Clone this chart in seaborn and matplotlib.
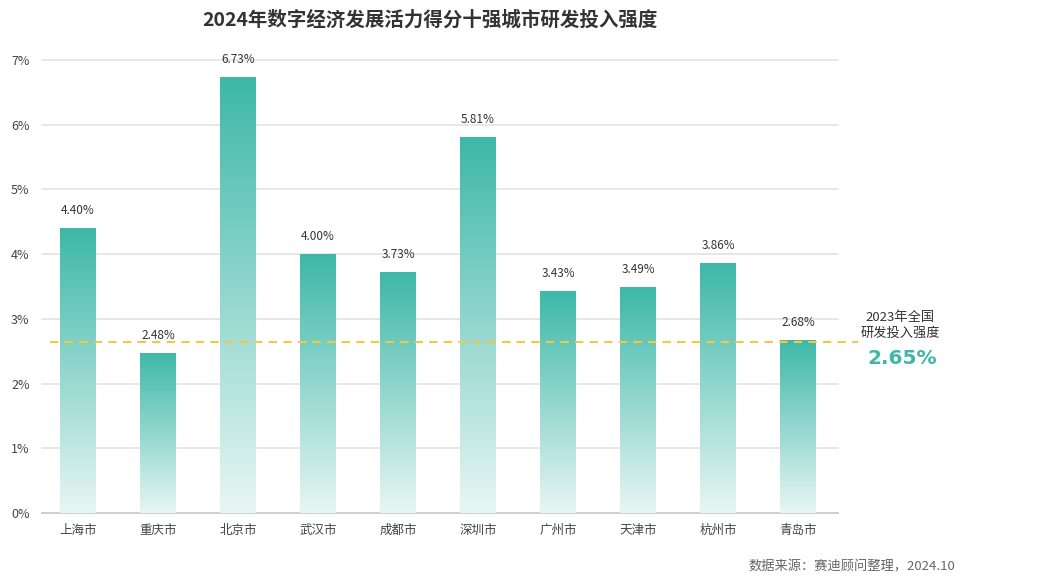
import numpy as np
import pandas as pd
import matplotlib
matplotlib.use("Agg")
import matplotlib.pyplot as plt
import seaborn as sns
from matplotlib.colors import LinearSegmentedColormap

cities = ["上海市", "重庆市", "北京市", "武汉市", "成都市", "深圳市", "广州市", "天津市", "杭州市", "青岛市"]
values = [4.40, 2.48, 6.73, 4.00, 3.73, 5.81, 3.43, 3.49, 3.86, 2.68]
national = 2.65
title = "2024年数字经济发展活力得分十强城市研发投入强度"
source = "数据来源：赛迪顾问整理，2024.10"

sns.set_theme(style="white")
plt.rcParams['font.family'] = ['Noto Sans CJK SC', 'DejaVu Sans']

df = pd.DataFrame({"city": cities, "value": values})

fig = plt.figure(figsize=(10.46, 5.84), dpi=100)
ax = fig.add_axes([42/1046, 1-513/584, (838-42)/1046, (513-60)/584])

sns.barplot(data=df, x="city", y="value", ax=ax, width=0.44, color="#3DB8A8", zorder=3)

cmap = LinearSegmentedColormap.from_list("g", ["#E8F6F4", "#3DB8A8"])
grad = np.linspace(0, 1, 256).reshape(-1, 1)
for p in ax.patches:
    x0 = p.get_x(); w = p.get_width(); h = p.get_height()
    im = ax.imshow(grad, cmap=cmap, aspect="auto", origin="lower",
                   extent=[x0, x0 + w, 0, h], zorder=3)
    im.set_clip_path(p)
    p.set_facecolor("none")
    p.set_edgecolor("none")
    ax.text(x0 + w/2, h + 0.17, f"{h:.2f}%", ha="center", va="bottom",
            fontsize=8.5, color="#333333", zorder=5)

ax.set_xlim(-0.45, 9.5)
ax.set_ylim(0, 7)
ax.set_yticks(range(0, 8))
ax.set_yticklabels([f"{i}%" for i in range(0, 8)])
ax.yaxis.grid(True, color="#E3E3E3", linewidth=1.2, zorder=0)
for gl in ax.get_ygridlines():
    gl.set_clip_on(False)
ax.set_axisbelow(True)
for s in ["top", "right", "left"]:
    ax.spines[s].set_visible(False)
ax.spines["bottom"].set_color("#D0D0D0")
ax.spines["bottom"].set_linewidth(1.5)
ax.tick_params(axis="both", length=0, labelsize=9, colors="#444444")
ax.tick_params(axis="x", pad=8)
ax.tick_params(axis="y", pad=9)
ax.set_xlabel("")
ax.set_ylabel("")

# national line extending beyond axes
ax.plot([-0.35, 9.75], [national, national], linestyle=(0, (4, 3)), color="#F5C842",
        linewidth=1.5, zorder=4, clip_on=False)

fig.text(900/1046, 1-318/584, "2023年全国", ha="center", va="center", fontsize=9.5, color="#333333")
fig.text(900/1046, 1-333/584, "研发投入强度", ha="center", va="center", fontsize=9.5, color="#333333")
fig.text(902/1046, 1-359/584, f"{national:.2f}%", ha="center", va="center", fontsize=14.5,
         color="#3DB8A8", fontweight="heavy", family=["DejaVu Sans"])

fig.text(430/1046, 1-20/584, title, ha="center", va="center", fontsize=14,
         fontweight="bold", color="#333333")
fig.text(955/1046, 1-567/584, source, ha="right", va="center", fontsize=9.5, color="#666666")

fig.savefig("out.png", dpi=100)
